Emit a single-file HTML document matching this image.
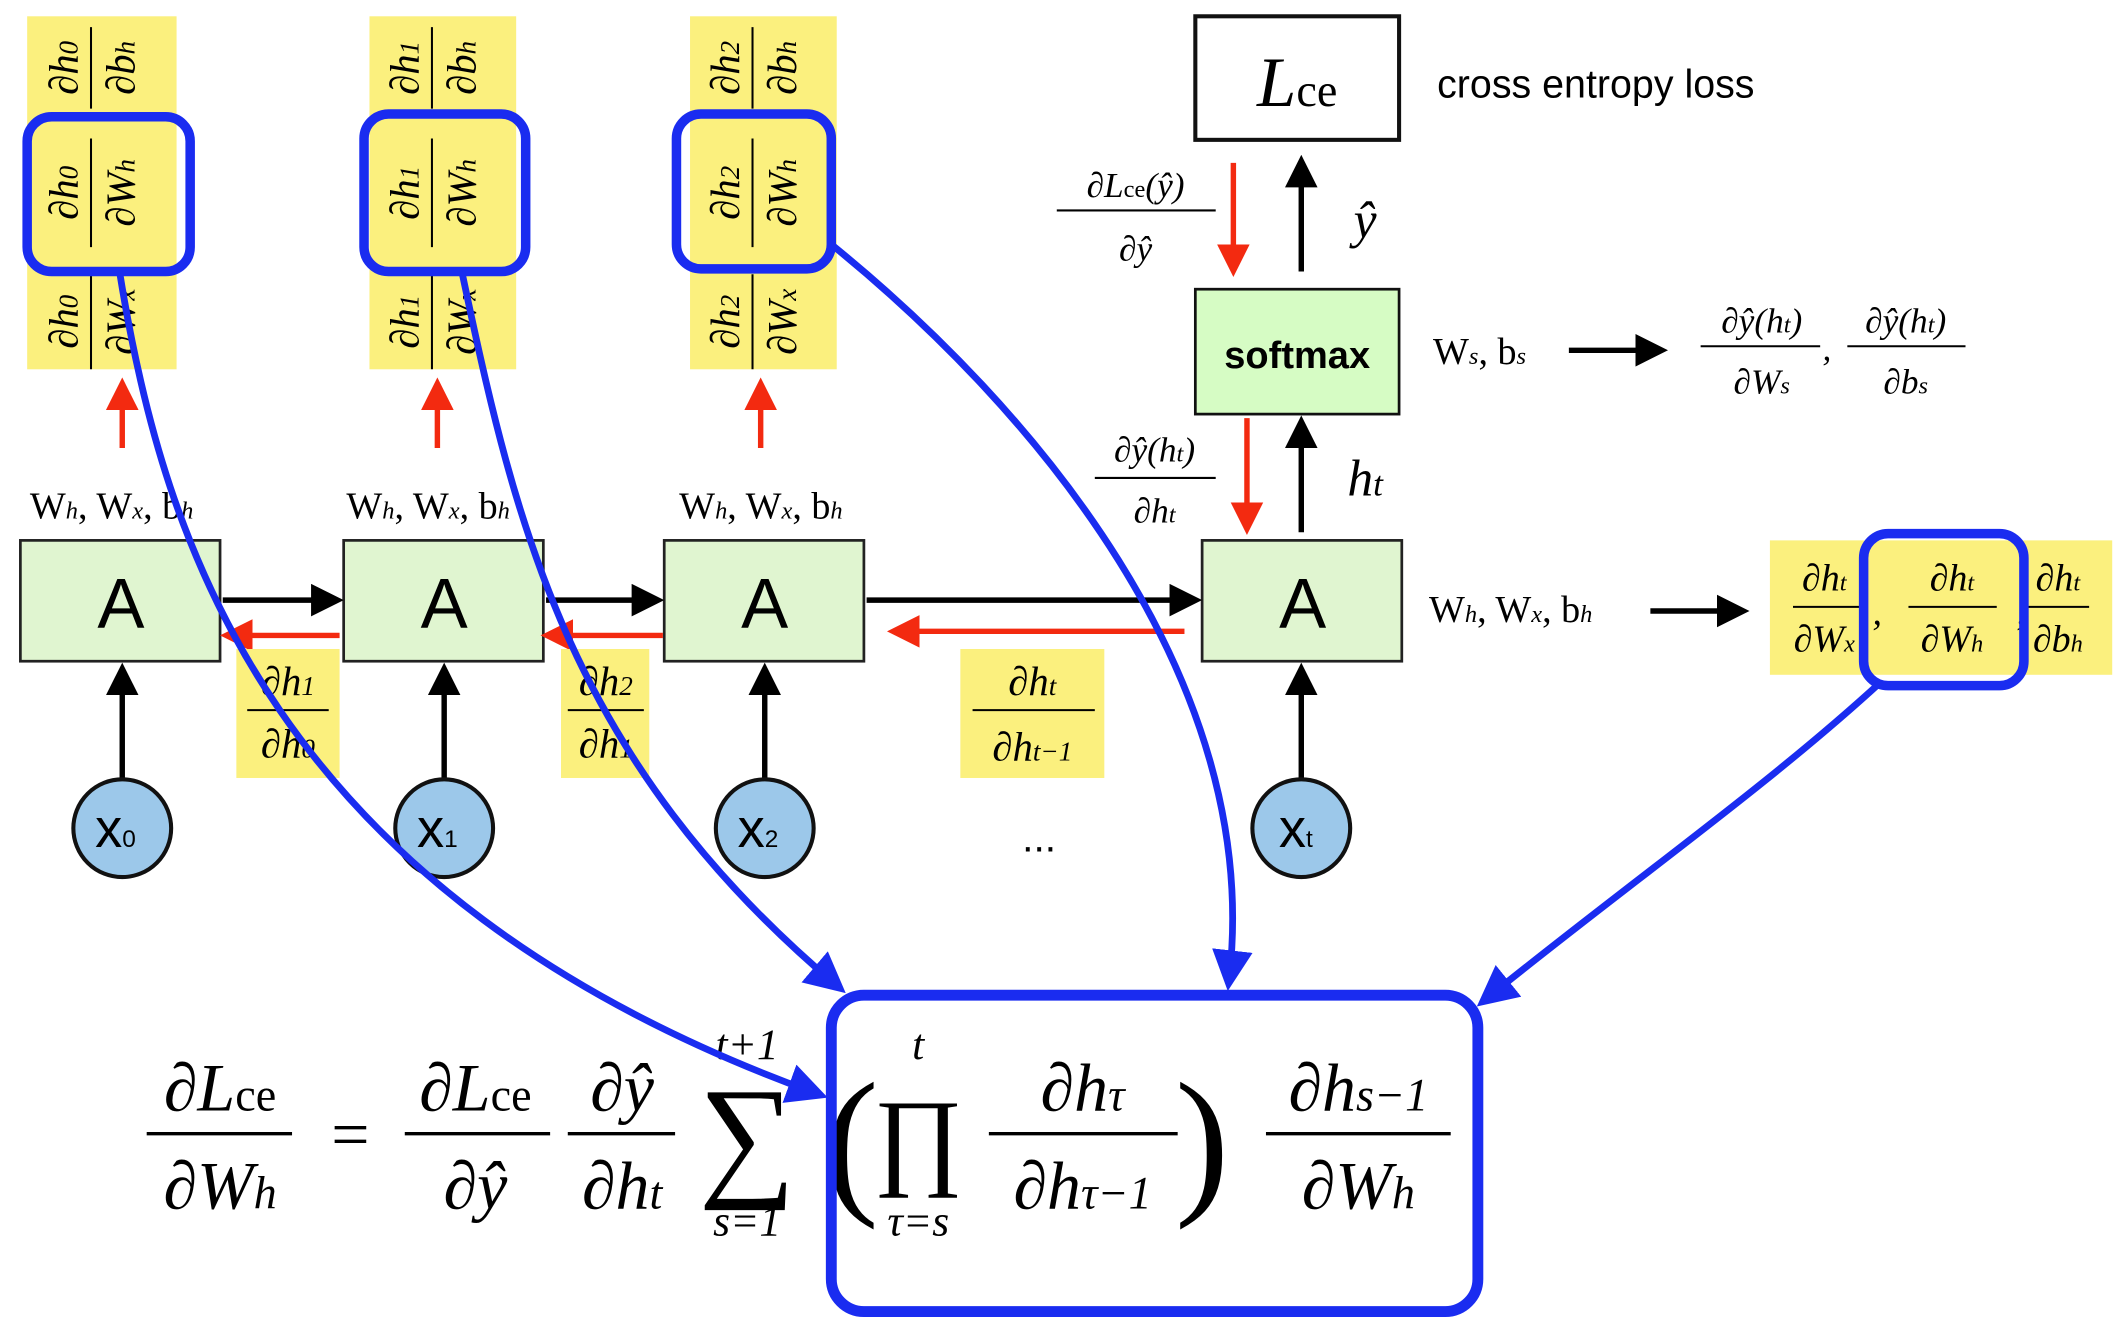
<!DOCTYPE html>
<html><head><meta charset="utf-8"><style>
html,body{margin:0;padding:0;background:#fff;}
svg{display:block}
text{font-family:"Liberation Serif",serif;}
.it{font-style:italic}
text.sans,.sans text{font-family:"Liberation Sans",sans-serif}
</style></head><body>
<svg width="2119" height="1317" viewBox="0 0 1560 970" preserveAspectRatio="none" xmlns="http://www.w3.org/2000/svg">
<defs>
<marker id="ak" markerWidth="6" markerHeight="6" refX="4.5" refY="3" orient="auto" markerUnits="strokeWidth"><path d="M0,0 L6,3 L0,6 z" fill="#000"/></marker>
<marker id="ar" markerWidth="6" markerHeight="6" refX="4.5" refY="3" orient="auto" markerUnits="strokeWidth"><path d="M0,0 L6,3 L0,6 z" fill="#f32a10"/></marker>
<marker id="ab" markerWidth="6" markerHeight="6" refX="4" refY="3" orient="auto" markerUnits="strokeWidth"><path d="M0,0 L6,3 L0,6 z" fill="#1a2cf0"/></marker>
</defs>

<g>
<rect x="20" y="12" width="110" height="260" fill="#fbf07e"/>
<g transform="translate(75,142) rotate(-90)" font-size="30" class="it" text-anchor="middle">
<text x="92" y="-18">∂h<tspan font-size="20">0</tspan></text><line x1="62" y1="-8" x2="122" y2="-8" stroke="#000" stroke-width="1.5"/><text x="92" y="24">∂b<tspan font-size="20">h</tspan></text>
<text x="0" y="-18">∂h<tspan font-size="20">0</tspan></text><line x1="-40" y1="-8" x2="40" y2="-8" stroke="#000" stroke-width="1.5"/><text x="0" y="24">∂W<tspan font-size="20">h</tspan></text>
<text x="-95" y="-18">∂h<tspan font-size="20">0</tspan></text><line x1="-130" y1="-8" x2="-60" y2="-8" stroke="#000" stroke-width="1.5"/><text x="-95" y="24">∂W<tspan font-size="20">x</tspan></text>
</g></g>
<g>
<rect x="272" y="12" width="108" height="260" fill="#fbf07e"/>
<g transform="translate(326,142) rotate(-90)" font-size="30" class="it" text-anchor="middle">
<text x="92" y="-18">∂h<tspan font-size="20">1</tspan></text><line x1="62" y1="-8" x2="122" y2="-8" stroke="#000" stroke-width="1.5"/><text x="92" y="24">∂b<tspan font-size="20">h</tspan></text>
<text x="0" y="-18">∂h<tspan font-size="20">1</tspan></text><line x1="-40" y1="-8" x2="40" y2="-8" stroke="#000" stroke-width="1.5"/><text x="0" y="24">∂W<tspan font-size="20">h</tspan></text>
<text x="-95" y="-18">∂h<tspan font-size="20">1</tspan></text><line x1="-130" y1="-8" x2="-60" y2="-8" stroke="#000" stroke-width="1.5"/><text x="-95" y="24">∂W<tspan font-size="20">x</tspan></text>
</g></g>
<g>
<rect x="508" y="12" width="108" height="260" fill="#fbf07e"/>
<g transform="translate(562,142) rotate(-90)" font-size="30" class="it" text-anchor="middle">
<text x="92" y="-18">∂h<tspan font-size="20">2</tspan></text><line x1="62" y1="-8" x2="122" y2="-8" stroke="#000" stroke-width="1.5"/><text x="92" y="24">∂b<tspan font-size="20">h</tspan></text>
<text x="0" y="-18">∂h<tspan font-size="20">2</tspan></text><line x1="-40" y1="-8" x2="40" y2="-8" stroke="#000" stroke-width="1.5"/><text x="0" y="24">∂W<tspan font-size="20">h</tspan></text>
<text x="-95" y="-18">∂h<tspan font-size="20">2</tspan></text><line x1="-130" y1="-8" x2="-60" y2="-8" stroke="#000" stroke-width="1.5"/><text x="-95" y="24">∂W<tspan font-size="20">x</tspan></text>
</g></g>

<g stroke="#f32a10" stroke-width="4">
<line x1="90" y1="330" x2="90" y2="284" marker-end="url(#ar)"/>
<line x1="322" y1="330" x2="322" y2="284" marker-end="url(#ar)"/>
<line x1="560" y1="330" x2="560" y2="284" marker-end="url(#ar)"/>
</g>

<g font-size="28">
<text x="22" y="382">W<tspan class="it" font-size="18">h</tspan>, W<tspan class="it" font-size="18">x</tspan>, b<tspan class="it" font-size="18">h</tspan></text>
<text x="255" y="382">W<tspan class="it" font-size="18">h</tspan>, W<tspan class="it" font-size="18">x</tspan>, b<tspan class="it" font-size="18">h</tspan></text>
<text x="500" y="382">W<tspan class="it" font-size="18">h</tspan>, W<tspan class="it" font-size="18">x</tspan>, b<tspan class="it" font-size="18">h</tspan></text>
<text x="1052" y="458">W<tspan class="it" font-size="18">h</tspan>, W<tspan class="it" font-size="18">x</tspan>, b<tspan class="it" font-size="18">h</tspan></text>
<text x="1055" y="268">W<tspan class="it" font-size="18">s</tspan>, b<tspan class="it" font-size="18">s</tspan></text>
</g>

<g fill="#e0f5d0" stroke="#222" stroke-width="2">
<rect x="15" y="398" width="147" height="89"/><rect x="253" y="398" width="147" height="89"/>
<rect x="489" y="398" width="147" height="89"/><rect x="885" y="398" width="147" height="89"/>
</g>
<g class="sans" font-size="52" text-anchor="middle">
<text x="89" y="462">A</text><text x="327" y="462">A</text><text x="563" y="462">A</text><text x="959" y="462">A</text>
</g>

<g stroke="#000" stroke-width="4">
<line x1="164" y1="442" x2="247" y2="442" marker-end="url(#ak)"/>
<line x1="402" y1="442" x2="483" y2="442" marker-end="url(#ak)"/>
<line x1="638" y1="442" x2="879" y2="442" marker-end="url(#ak)"/>
<line x1="1215" y1="450" x2="1282" y2="450" marker-end="url(#ak)"/>
<line x1="1155" y1="258" x2="1222" y2="258" marker-end="url(#ak)"/>
<line x1="90" y1="573" x2="90" y2="494" marker-end="url(#ak)"/>
<line x1="327" y1="573" x2="327" y2="494" marker-end="url(#ak)"/>
<line x1="563" y1="573" x2="563" y2="494" marker-end="url(#ak)"/>
<line x1="958" y1="573" x2="958" y2="494" marker-end="url(#ak)"/>
<line x1="958" y1="392" x2="958" y2="312" marker-end="url(#ak)"/>
<line x1="958" y1="200" x2="958" y2="120" marker-end="url(#ak)"/>
</g>
<g stroke="#f32a10" stroke-width="4">
<line x1="250" y1="468" x2="168" y2="468" marker-end="url(#ar)"/>
<line x1="488" y1="468" x2="404" y2="468" marker-end="url(#ar)"/>
<line x1="872" y1="465" x2="659" y2="465" marker-end="url(#ar)"/>
<line x1="918" y1="308" x2="918" y2="388" marker-end="url(#ar)"/>
<line x1="908" y1="120" x2="908" y2="198" marker-end="url(#ar)"/>
</g>

<g font-size="30" class="it" text-anchor="middle">
<rect x="174" y="478" width="76" height="95" fill="#fbf07e"/>
<text x="212" y="512">∂h<tspan font-size="20">1</tspan></text><line x1="182" y1="523" x2="242" y2="523" stroke="#000" stroke-width="1.5"/><text x="212" y="558">∂h<tspan font-size="20">0</tspan></text>
<rect x="413" y="478" width="65" height="95" fill="#fbf07e"/>
<text x="446" y="512">∂h<tspan font-size="20">2</tspan></text><line x1="418" y1="523" x2="474" y2="523" stroke="#000" stroke-width="1.5"/><text x="446" y="558">∂h<tspan font-size="20">1</tspan></text>
<rect x="707" y="478" width="106" height="95" fill="#fbf07e"/>
<text x="760" y="512">∂h<tspan font-size="20">t</tspan></text><line x1="716" y1="523" x2="806" y2="523" stroke="#000" stroke-width="1.5"/><text x="760" y="560">∂h<tspan font-size="20">t−1</tspan></text>
</g>

<g>
<g fill="#9cc8ea" stroke="#111" stroke-width="3">
<circle cx="90" cy="610" r="36"/><circle cx="327" cy="610" r="36"/><circle cx="563" cy="610" r="36"/><circle cx="958" cy="610" r="36"/>
</g>
<g class="sans" font-size="40" text-anchor="middle">
<text x="85" y="624">x<tspan font-size="18">0</tspan></text><text x="322" y="624">x<tspan font-size="18">1</tspan></text>
<text x="558" y="624">x<tspan font-size="18">2</tspan></text><text x="954" y="624">x<tspan font-size="18">t</tspan></text>
</g>
<text x="765" y="627" font-size="30" text-anchor="middle" class="sans">...</text>
</g>

<rect x="880" y="213" width="150" height="92" fill="#d6fcc4" stroke="#111" stroke-width="2"/>
<text x="955" y="271" class="sans" font-weight="bold" font-size="28" text-anchor="middle">softmax</text>
<rect x="880" y="12" width="150" height="91" fill="#fff" stroke="#111" stroke-width="3"/>
<text x="955" y="78" font-size="52" text-anchor="middle"><tspan class="it">L</tspan><tspan font-size="34">ce</tspan></text>
<text x="1058" y="72" class="sans" font-size="29">cross entropy loss</text>
<text x="1005" y="175" font-size="38" class="it" text-anchor="middle">ŷ</text>
<text x="1005" y="365" font-size="38" class="it" text-anchor="middle">h<tspan font-size="26">t</tspan></text>
<g font-size="26" class="it" text-anchor="middle">
<text x="836" y="145">∂L<tspan font-style="normal" font-size="18">ce</tspan>(ŷ)</text><line x1="778" y1="155" x2="895" y2="155" stroke="#000" stroke-width="1.5"/><text x="836" y="192">∂ŷ</text>
<text x="850" y="340">∂ŷ(h<tspan font-size="18">t</tspan>)</text><line x1="806" y1="352" x2="895" y2="352" stroke="#000" stroke-width="1.5"/><text x="850" y="385">∂h<tspan font-size="18">t</tspan></text>
<text x="1297" y="245">∂ŷ(h<tspan font-size="18">t</tspan>)</text><line x1="1252" y1="255" x2="1340" y2="255" stroke="#000" stroke-width="1.5"/><text x="1297" y="290">∂W<tspan font-size="18">s</tspan></text>
<text x="1345" y="265">,</text>
<text x="1403" y="245">∂ŷ(h<tspan font-size="18">t</tspan>)</text><line x1="1360" y1="255" x2="1447" y2="255" stroke="#000" stroke-width="1.5"/><text x="1403" y="290">∂b<tspan font-size="18">s</tspan></text>
</g>

<g font-size="28" class="it" text-anchor="middle">
<rect x="1303" y="398" width="252" height="99" fill="#fbf07e"/>
<text x="1343" y="435">∂h<tspan font-size="18">t</tspan></text><line x1="1320" y1="447" x2="1370" y2="447" stroke="#000" stroke-width="1.5"/><text x="1343" y="480">∂W<tspan font-size="18">x</tspan></text>
<text x="1382" y="460">,</text>
<text x="1437" y="435">∂h<tspan font-size="18">t</tspan></text><line x1="1405" y1="447" x2="1470" y2="447" stroke="#000" stroke-width="1.5"/><text x="1437" y="480">∂W<tspan font-size="18">h</tspan></text>
<text x="1488" y="460">,</text>
<text x="1515" y="435">∂h<tspan font-size="18">t</tspan></text><line x1="1493" y1="447" x2="1538" y2="447" stroke="#000" stroke-width="1.5"/><text x="1515" y="480">∂b<tspan font-size="18">h</tspan></text>
</g>

<g font-size="50" text-anchor="middle">
<text x="162" y="818" class="it">∂L<tspan font-style="normal" font-size="34">ce</tspan></text>
<line x1="108" y1="835" x2="215" y2="835" stroke="#000" stroke-width="2.5"/>
<text x="162" y="890" class="it">∂W<tspan font-size="34">h</tspan></text>
<text x="258" y="852">=</text>
<text x="350" y="818" class="it">∂L<tspan font-style="normal" font-size="34">ce</tspan></text>
<line x1="298" y1="835" x2="405" y2="835" stroke="#000" stroke-width="2.5"/>
<text x="350" y="890" class="it">∂ŷ</text>
<text x="458" y="818" class="it">∂ŷ</text>
<line x1="418" y1="835" x2="497" y2="835" stroke="#000" stroke-width="2.5"/>
<text x="458" y="890" class="it">∂h<tspan font-size="34">t</tspan></text>
<text x="550" y="780" font-size="32" class="it">t+1</text>
<text x="550" y="870" font-size="100">∑</text>
<text x="550" y="910" font-size="32" class="it">s=1</text>
<text x="627" y="880" font-size="120" font-weight="100">(</text>
<text x="676" y="780" font-size="32" class="it">t</text>
<text x="676" y="865" font-size="80">∏</text>
<text x="676" y="910" font-size="32" class="it">τ=s</text>
<text x="797" y="818" class="it">∂h<tspan font-size="34">τ</tspan></text>
<line x1="728" y1="835" x2="867" y2="835" stroke="#000" stroke-width="2.5"/>
<text x="797" y="890" class="it">∂h<tspan font-size="34">τ−1</tspan></text>
<text x="885" y="880" font-size="120">)</text>
<text x="1000" y="818" class="it">∂h<tspan font-size="34">s−1</tspan></text>
<line x1="932" y1="835" x2="1068" y2="835" stroke="#000" stroke-width="2.5"/>
<text x="1000" y="890" class="it">∂W<tspan font-size="34">h</tspan></text>
</g>

<g fill="none" stroke="#1a2cf0">
<rect x="20" y="86" width="120" height="114" rx="18" stroke-width="7"/>
<rect x="268" y="84" width="119" height="116" rx="18" stroke-width="7"/>
<rect x="498" y="84" width="114" height="114" rx="18" stroke-width="7"/>
<rect x="1372" y="393" width="118" height="112" rx="18" stroke-width="7"/>
<rect x="612" y="733" width="476" height="233" rx="24" stroke-width="8"/>
<g stroke-width="5">
<path d="M88,200 C120,400 200,660 600,805" marker-end="url(#ab)"/>
<path d="M340,200 C380,390 420,560 615,725" marker-end="url(#ab)"/>
<path d="M612,180 C760,300 930,500 905,720" marker-end="url(#ab)"/>
<path d="M1385,502 C1300,580 1200,650 1095,735" marker-end="url(#ab)"/>
</g>
</g>
</svg>
</body></html>
